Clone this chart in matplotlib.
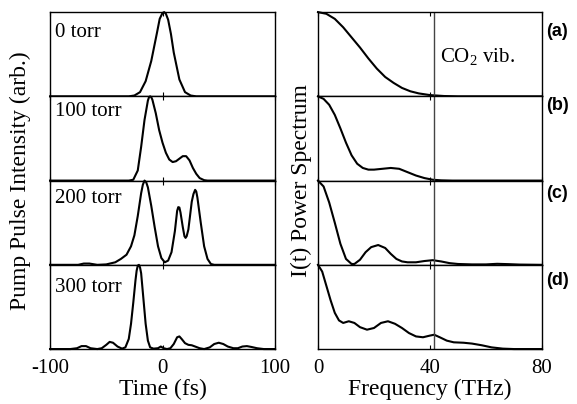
import numpy as np
import matplotlib
matplotlib.use("Agg")
matplotlib.rcParams.update({
    "font.family": "Liberation Serif",
    "mathtext.fontset": "custom",
    "mathtext.rm": "Liberation Serif",
    "axes.unicode_minus": False,
})
import matplotlib.pyplot as plt

# ── Pump pulse intensity vs time (fs) ──────────────────────────────────────
pressures = ["0 torr", "100 torr", "200 torr", "300 torr"]

t_0 = [-100, -40, -30, -25, -20, -15, -10, -5, -2.5, 0, 1.5, 3, 5, 7.5, 10, 15, 20, 25,
       30, 40, 100]
I_0 = [0, 0, 0, 0.01, 0.05, 0.18, 0.42, 0.75, 0.92, 0.99, 1.0, 0.98, 0.91, 0.74, 0.52,
       0.2, 0.05, 0.01, 0, 0, 0]

t_100 = [-100, -30, -26, -22, -19, -16, -13, -12, -11, -10, -9, -6, -3, 0, 3, 6, 9, 12,
         15, 18, 21, 24, 27, 30, 33, 37, 40, 100]
I_100 = [0, 0, 0.01, 0.12, 0.4, 0.72, 0.95, 0.99, 1.0, 0.99, 0.96, 0.8, 0.6, 0.45, 0.33,
         0.25, 0.22, 0.23, 0.26, 0.29, 0.29, 0.24, 0.15, 0.08, 0.03, 0.005, 0, 0]

t_200 = [-100, -75, -70, -65, -58, -50, -42, -37, -32, -28, -25, -22, -19, -17.5, -16,
         -14.5, -13, -10, -7, -4, -1, 2, 5, 8, 11, 13, 14, 15, 16, 18, 19.5, 20.5, 21.5,
         23, 26, 27.5, 29, 30, 31, 34, 37, 40, 43, 46, 100]
I_200 = [0, 0, 0.015, 0.015, 0.0, 0.005, 0.03, 0.07, 0.12, 0.22, 0.35, 0.58, 0.85, 0.95,
         1.0, 0.98, 0.92, 0.7, 0.45, 0.22, 0.08, 0.03, 0.05, 0.15, 0.4, 0.64, 0.685, 0.68,
         0.62, 0.45, 0.34, 0.32, 0.34, 0.42, 0.75, 0.84, 0.89, 0.87, 0.8, 0.5, 0.22, 0.07,
         0.01, 0, 0]

t_300 = [-100, -82, -76, -72, -68, -64, -58, -54, -50, -47, -44, -40, -36, -33, -30, -28,
         -26, -24, -23, -22, -21, -20, -19, -17, -15, -13, -11, -8, -4, -1.5, 1, 4, 7, 10,
         13, 15, 17, 20, 23, 26, 29, 33, 37, 42, 46, 50, 54, 58, 63, 67, 71, 75, 79, 84,
         90, 100]
I_300 = [0, 0, 0.01, 0.035, 0.035, 0.01, 0.0, 0.01, 0.05, 0.085, 0.075, 0.03, 0.005, 0.02,
         0.12, 0.3, 0.55, 0.82, 0.93, 0.99, 1.0, 0.97, 0.9, 0.6, 0.3, 0.1, 0.02, 0.005,
         0.01, 0.03, 0.01, 0.0, 0.01, 0.06, 0.14, 0.15, 0.12, 0.07, 0.05, 0.045, 0.03,
         0.01, 0.0, 0.02, 0.06, 0.075, 0.06, 0.03, 0.01, 0.01, 0.03, 0.035, 0.025, 0.01,
         0, 0]

# ── Power spectrum vs frequency (THz) ──────────────────────────────────────
panel_tags = ["(a)", "(b)", "(c)", "(d)"]
CO2_VIB = 41.5

f_a = [0, 3, 6, 9, 12, 15, 18, 21, 24, 27, 30, 33, 36, 40, 45, 50, 80]
P_a = [1.0, 0.98, 0.92, 0.82, 0.7, 0.58, 0.45, 0.33, 0.23, 0.16, 0.1, 0.06, 0.035, 0.015,
       0.004, 0, 0]

f_b = [0, 2, 4, 6, 8, 10, 12, 14, 16, 18, 20, 23, 26, 29, 32, 35, 38, 41, 44, 48, 80]
P_b = [1.0, 0.97, 0.9, 0.78, 0.62, 0.45, 0.3, 0.2, 0.15, 0.13, 0.13, 0.14, 0.15, 0.14,
       0.1, 0.06, 0.03, 0.01, 0.003, 0, 0]

f_c = [0, 2, 4, 6, 8, 10, 12, 13, 15, 17, 19, 21.5, 24, 26, 28, 30, 32, 35, 38, 41, 44,
       47, 50, 55, 60, 64, 68, 72, 80]
P_c = [1.0, 0.93, 0.74, 0.5, 0.25, 0.07, 0.01, 0.01, 0.06, 0.15, 0.21, 0.235, 0.2, 0.13,
       0.07, 0.04, 0.03, 0.03, 0.045, 0.055, 0.04, 0.02, 0.01, 0.005, 0.005, 0.012,
       0.008, 0.003, 0]

f_d = [0, 1.5, 3, 4.5, 6, 7.5, 9, 11, 13, 15, 17.5, 20, 22.5, 25, 27.5, 30, 32.5, 35,
       37.5, 40, 41.5, 43.5, 46, 48.5, 52, 55, 58.5, 62, 66, 70, 80]
P_d = [1.0, 0.92, 0.75, 0.58, 0.43, 0.34, 0.31, 0.33, 0.31, 0.26, 0.23, 0.25, 0.31, 0.33,
       0.3, 0.25, 0.19, 0.15, 0.14, 0.16, 0.17, 0.14, 0.1, 0.08, 0.075, 0.065, 0.045,
       0.02, 0.005, 0, 0]

pulses = [(t_0, I_0), (t_100, I_100), (t_200, I_200), (t_300, I_300)]
spectra = [(f_a, P_a), (f_b, P_b), (f_c, P_c), (f_d, P_d)]

# ── Figure ─────────────────────────────────────────────────────────────────
fig = plt.figure(figsize=(5.77, 4.04), dpi=100)
gs_l = fig.add_gridspec(4, 1, left=0.0867, right=0.4766, bottom=0.136, top=0.970, hspace=0)
gs_r = fig.add_gridspec(4, 1, left=0.5511, right=0.9393, bottom=0.136, top=0.970, hspace=0)

torr_y = [0.76, 0.82, 0.79, 0.73]
for i, ((t, I), name) in enumerate(zip(pulses, pressures)):
    ax = fig.add_subplot(gs_l[i])
    ax.plot(t, I, color="k", lw=1.5, clip_on=False)
    ax.set_xlim(-100, 100)
    ax.set_ylim(0, 1.0)
    ax.set_yticks([])
    ax.set_xticks([-100, 0, 100])
    ax.tick_params(axis="x", direction="in", top=True, length=3, labelsize=15, pad=7)
    if i < 3:
        ax.set_xticklabels([])
    else:
        ax.set_xlabel("Time (fs)", fontsize=17, labelpad=1)
    ax.text(0.02, torr_y[i], name, transform=ax.transAxes, fontsize=15, va="center")
    for s in ax.spines.values():
        s.set_linewidth(1.0)

for i, ((f, P), tag) in enumerate(zip(spectra, panel_tags)):
    ax = fig.add_subplot(gs_r[i])
    ax.plot(f, P, color="k", lw=1.5, clip_on=False)
    ax.axvline(CO2_VIB, color="#444444", lw=1.0)
    ax.set_xlim(0, 80)
    ax.set_ylim(0, 1.0)
    ax.set_yticks([])
    ax.set_xticks([0, 40, 80])
    ax.tick_params(axis="x", direction="in", top=True, length=3, labelsize=15, pad=7)
    if i < 3:
        ax.set_xticklabels([])
    else:
        ax.set_xlabel("Frequency (THz)", fontsize=17, labelpad=1)
    if i == 0:
        ax.text(CO2_VIB + 2.0, 0.47, r"CO$_{\mathrm{2}}$ vib.", fontsize=15, va="center")
    for s in ax.spines.values():
        s.set_linewidth(1.0)

tag_y = [0.921, 0.738, 0.52, 0.305]
for tag, y in zip(panel_tags, tag_y):
    fig.text(0.947, y, tag, family="Liberation Sans", weight="bold", fontsize=13,
             va="center", ha="left")

fig.text(0.035, 0.553, "Pump Pulse Intensity (arb.)", rotation=90, fontsize=17,
         ha="center", va="center")
fig.text(0.523, 0.553, "I(t) Power Spectrum", rotation=90, fontsize=17,
         ha="center", va="center")

fig.savefig("out.png", dpi=100)
